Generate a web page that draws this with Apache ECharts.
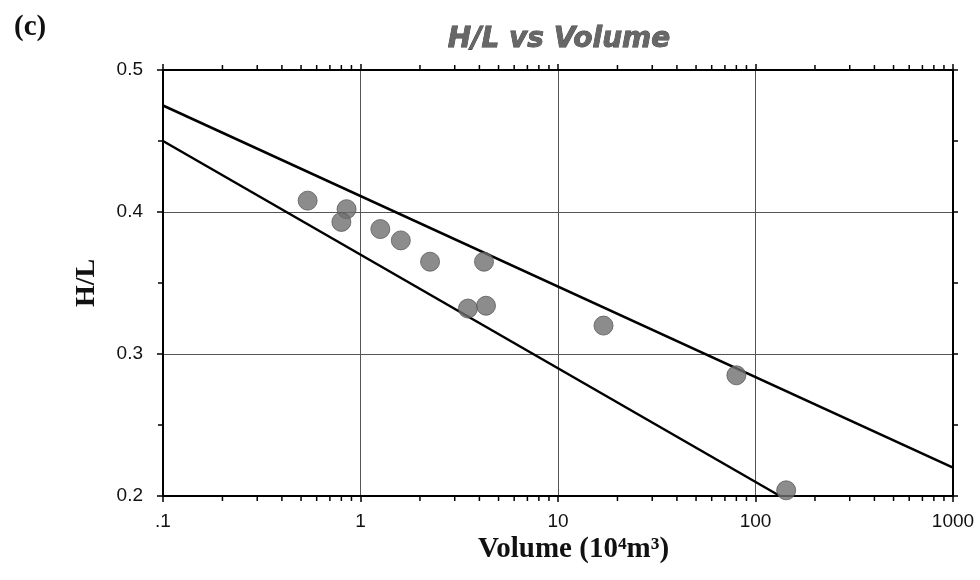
<!DOCTYPE html>
<html>
<head>
<meta charset="utf-8">
<script src="https://cdn.jsdelivr.net/npm/echarts@6/dist/echarts.min.js"></script>
<style>
  html, body { margin: 0; padding: 0; background: #fff; }
  #main { width: 980px; height: 580px; }
</style>
</head>
<body>
<div id="main"></div>
<script>
// measured points (volume in 10^4 m^3, H/L)
var volume = [0.54, 0.85, 0.80, 1.26, 1.60, 2.25, 4.22, 4.32, 3.5, 17, 80, 143];
var hl = [0.408, 0.402, 0.393, 0.388, 0.380, 0.365, 0.365, 0.334, 0.332, 0.320, 0.285, 0.204];

// envelope lines (end points)
var upperLine = [[0.1, 0.475], [1000, 0.22]];
var lowerLine = [[0.1, 0.45], [133, 0.2]];

// x tick labels
var xTickLabels = { 0.1: '.1', 1: '1', 10: '10', 100: '100', 1000: '1000' };

// log minor ticks: 2..9 in every decade
var decades = [0.1, 1, 10, 100];
var minorMults = [2, 3, 4, 5, 6, 7, 8, 9];
var minorTicks = [];
decades.forEach(function (d) {
  minorMults.forEach(function (m) { minorTicks.push([+(d * m).toPrecision(3)]); });
});

var points = volume.map(function (v, i) { return [v, hl[i]]; });

var chart = echarts.init(document.getElementById('main'));

var axisLine = { show: true, lineStyle: { color: '#000', width: 2 } };
var gridLine = { color: '#555', width: 1 };

var option = {
  backgroundColor: '#fff',
  animation: false,
  title: [{
    text: 'H/L vs Volume',
    left: 554,
    top: 21,
    textAlign: 'center',
    textStyle: {
      fontFamily: 'DejaVu Sans',
      fontStyle: 'italic',
      fontWeight: 'bold',
      fontSize: 28,
      color: '#676767',
      textBorderColor: '#3a3a3a',
      textBorderWidth: 0.8
    }
  }, {
    text: '(c)',
    left: 9,
    top: 8,
    textStyle: {
      fontFamily: 'Liberation Serif',
      fontWeight: 'bold',
      fontSize: 29,
      color: '#111'
    }
  }],
  graphic: [{
    type: 'text',
    left: 478,
    top: 535,
    style: {
      text: 'Volume (10\u2074m\u00b3)',
      font: 'bold 29px "Liberation Serif"',
      fill: '#111'
    }
  }],
  grid: { left: 163, right: 27, top: 70, bottom: 84 },
  xAxis: [{
    type: 'log',
    logBase: 10,
    min: 0.1,
    max: 1000,
    position: 'bottom',
    axisLine: axisLine,
    axisTick: { show: true, length: 6, lineStyle: { color: '#000', width: 1.5 } },
    axisLabel: {
      margin: 16,
      fontFamily: 'Liberation Sans',
      fontSize: 19,
      color: '#111',
      formatter: function (v) { return xTickLabels[v] || String(v); }
    },
    splitLine: { show: true, lineStyle: gridLine }
  }, {
    type: 'log',
    logBase: 10,
    min: 0.1,
    max: 1000,
    position: 'top',
    axisLine: axisLine,
    axisTick: { show: true, length: 6, lineStyle: { color: '#000', width: 1.5 } },
    axisLabel: { show: false },
    splitLine: { show: false }
  }],
  yAxis: [{
    type: 'value',
    min: 0.2,
    max: 0.5,
    interval: 0.1,
    position: 'left',
    axisLine: axisLine,
    axisTick: { show: true, length: 6, lineStyle: { color: '#000', width: 1.5 } },
    minorTick: { show: true, splitNumber: 2, length: 5, lineStyle: { color: '#000', width: 1.5 } },
    axisLabel: {
      margin: 20,
      fontFamily: 'Liberation Sans',
      fontSize: 19,
      color: '#111',
      formatter: function (v) { return v.toFixed(1); }
    },
    splitLine: { show: true, lineStyle: gridLine },
    name: 'H/L',
    nameLocation: 'middle',
    nameRotate: 90,
    nameGap: 62,
    nameTextStyle: {
      fontFamily: 'Liberation Serif',
      fontWeight: 'bold',
      fontSize: 28,
      color: '#111'
    }
  }, {
    type: 'value',
    min: 0.2,
    max: 0.5,
    interval: 0.05,
    position: 'right',
    axisLine: axisLine,
    axisTick: { show: true, length: 5, lineStyle: { color: '#000', width: 1.5 } },
    axisLabel: { show: false },
    splitLine: { show: false }
  }],
  series: [{
    type: 'line',
    data: upperLine,
    symbol: 'none',
    lineStyle: { color: '#000', width: 2.5 },
    z: 3
  }, {
    type: 'line',
    data: lowerLine,
    symbol: 'none',
    lineStyle: { color: '#000', width: 2.5 },
    z: 3
  }, {
    type: 'scatter',
    data: points,
    symbol: 'circle',
    symbolSize: 19,
    itemStyle: { color: '#6f6f6f', borderColor: '#5a5a5a', borderWidth: 1 },
    z: 5
  }, {
    type: 'custom',
    data: minorTicks,
    encode: { x: 0 },
    clip: false,
    silent: true,
    z: 4,
    renderItem: function (params, api) {
      var v = api.value(0);
      var b = api.coord([v, 0.2]);
      var t = api.coord([v, 0.5]);
      var st = { stroke: '#000', lineWidth: 1.5 };
      return {
        type: 'group',
        children: [
          { type: 'line', shape: { x1: b[0], y1: b[1], x2: b[0], y2: b[1] + 5 }, style: st },
          { type: 'line', shape: { x1: t[0], y1: t[1], x2: t[0], y2: t[1] - 5 }, style: st }
        ]
      };
    }
  }]
};

chart.setOption(option);
</script>
</body>
</html>
